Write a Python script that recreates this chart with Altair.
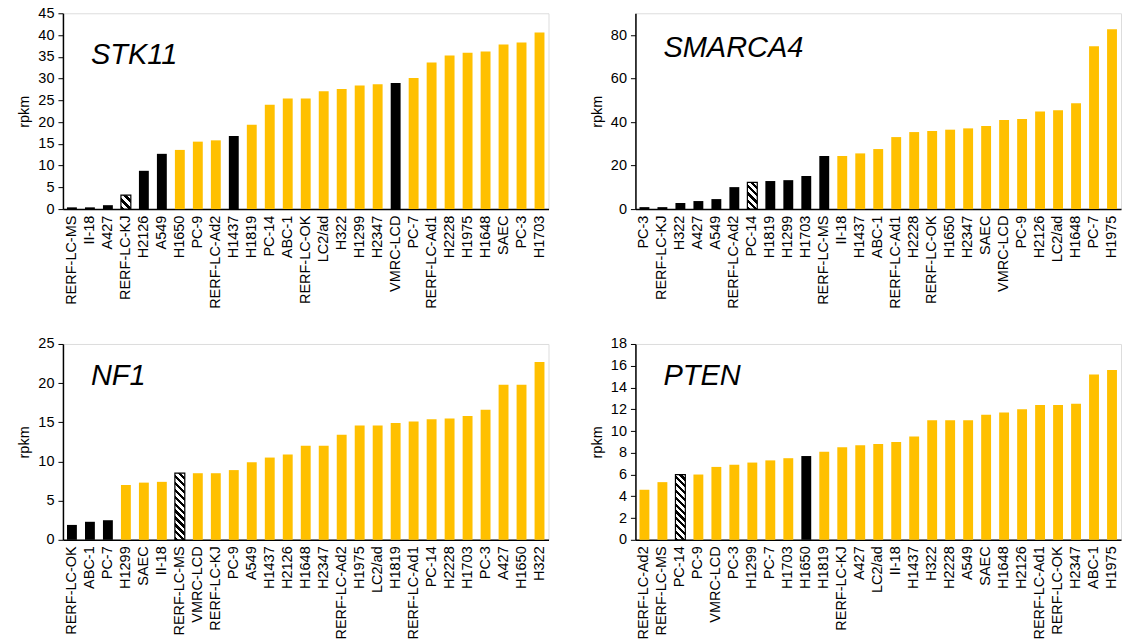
import altair as alt
import pandas as pd

# ---------------- data ----------------
stk11_cells = ["RERF-LC-MS", "II-18", "A427", "RERF-LC-KJ", "H2126", "A549", "H1650", "PC-9",
               "RERF-LC-Ad2", "H1437", "H1819", "PC-14", "ABC-1", "RERF-LC-OK", "LC2/ad", "H322",
               "H1299", "H2347", "VMRC-LCD", "PC-7", "RERF-LC-Ad1", "H2228", "H1975", "H1648",
               "SAEC", "PC-3", "H1703"]
stk11_vals = [0.4, 0.4, 0.9, 3.2, 8.8, 12.7, 13.6, 15.5, 15.8, 16.8, 19.4, 24.0, 25.4, 25.4,
              27.1, 27.6, 28.4, 28.7, 29.0, 30.1, 33.7, 35.3, 35.9, 36.2, 37.8, 38.3, 40.6]
stk11_kind = ["black", "black", "black", "hatch", "black", "black", "yellow", "yellow",
              "yellow", "black", "yellow", "yellow", "yellow", "yellow", "yellow", "yellow",
              "yellow", "yellow", "black", "yellow", "yellow", "yellow", "yellow", "yellow",
              "yellow", "yellow", "yellow"]

smarca4_cells = ["PC-3", "RERF-LC-KJ", "H322", "A427", "A549", "RERF-LC-Ad2", "PC-14", "H1819",
                 "H1299", "H1703", "RERF-LC-MS", "II-18", "H1437", "ABC-1", "RERF-LC-Ad1",
                 "H2228", "RERF-LC-OK", "H1650", "H2347", "SAEC", "VMRC-LCD", "PC-9", "H2126",
                 "LC2/ad", "H1648", "PC-7", "H1975"]
smarca4_vals = [0.9, 0.9, 2.8, 3.7, 4.6, 10.1, 12.3, 12.9, 13.3, 15.2, 24.4, 24.4, 25.6, 27.6,
                33.1, 35.4, 35.9, 36.5, 37.1, 38.2, 40.9, 41.4, 44.8, 45.4, 48.6, 74.9, 82.6]
smarca4_kind = ["black", "black", "black", "black", "black", "black", "hatch", "black",
                "black", "black", "black", "yellow", "yellow", "yellow", "yellow", "yellow",
                "yellow", "yellow", "yellow", "yellow", "yellow", "yellow", "yellow", "yellow",
                "yellow", "yellow", "yellow"]

nf1_cells = ["RERF-LC-OK", "ABC-1", "PC-7", "H1299", "SAEC", "II-18", "RERF-LC-MS", "VMRC-LCD",
             "RERF-LC-KJ", "PC-9", "A549", "H1437", "H2126", "H1648", "H2347", "RERF-LC-Ad2",
             "H1975", "LC2/ad", "H1819", "RERF-LC-Ad1", "PC-14", "H2228", "H1703", "PC-3",
             "A427", "H1650", "H322"]
nf1_vals = [1.9, 2.3, 2.5, 7.0, 7.3, 7.4, 8.5, 8.5, 8.5, 8.9, 9.9, 10.5, 10.9, 12.0, 12.0,
            13.4, 14.6, 14.6, 14.9, 15.1, 15.4, 15.5, 15.8, 16.6, 19.8, 19.8, 22.7]
nf1_kind = ["black", "black", "black", "yellow", "yellow", "yellow", "hatch", "yellow",
            "yellow", "yellow", "yellow", "yellow", "yellow", "yellow", "yellow", "yellow",
            "yellow", "yellow", "yellow", "yellow", "yellow", "yellow", "yellow", "yellow",
            "yellow", "yellow", "yellow"]

pten_cells = ["RERF-LC-Ad2", "RERF-LC-MS", "PC-14", "PC-9", "VMRC-LCD", "PC-3", "H1299", "PC-7",
              "H1703", "H1650", "H1819", "RERF-LC-KJ", "A427", "LC2/ad", "II-18", "H1437",
              "H322", "H2228", "A549", "SAEC", "H1648", "H2126", "RERF-LC-Ad1", "RERF-LC-OK",
              "H2347", "ABC-1", "H1975"]
pten_vals = [4.6, 5.3, 6.0, 6.0, 6.7, 6.9, 7.1, 7.3, 7.5, 7.7, 8.1, 8.5, 8.7, 8.8, 9.0, 9.5,
             11.0, 11.0, 11.0, 11.5, 11.7, 12.0, 12.4, 12.4, 12.5, 15.2, 15.6]
pten_kind = ["yellow", "yellow", "hatch", "yellow", "yellow", "yellow", "yellow", "yellow",
             "yellow", "black", "yellow", "yellow", "yellow", "yellow", "yellow", "yellow",
             "yellow", "yellow", "yellow", "yellow", "yellow", "yellow", "yellow", "yellow",
             "yellow", "yellow", "yellow"]

genes = ["STK11", "SMARCA4", "NF1", "PTEN"]
y_max = [45, 90, 25, 18]
y_step = [5, 20, 5, 2]

# ---------------- style ----------------
FONT = "Liberation Sans"
FS = 14.5
PW, PH = 486, 196
PAD_INNER = 0.45
YELLOW = "#FFC000"


def hatch_gradient(w, h, period=7.0, frac=0.45):
    # diagonal "\\" stripes drawn as a hard-stop linear gradient in bbox units
    s = (w + h) * w / (w * w + h * h)
    x2 = s
    y2 = 1 - (w + h) * h / (w * w + h * h)
    n = max(1, int(round((w + h) / period)))
    stops = []
    for k in range(n):
        a = k / n
        b = (k + frac) / n
        c = (k + 1) / n
        stops += [alt.GradientStop(offset=a, color="black"),
                  alt.GradientStop(offset=b, color="black"),
                  alt.GradientStop(offset=b, color="white"),
                  alt.GradientStop(offset=c, color="white")]
    return alt.LinearGradient(gradient="linear", stops=stops, x1=0, y1=1, x2=x2, y2=y2)


def panel(gene, cells, vals, kinds, ymax, ystep, label_y):
    df = pd.DataFrame({"cell": cells, "rpkm": vals, "kind": kinds})
    n = len(cells)
    step = PW / n
    bw = step * (1 - PAD_INNER)
    x = alt.X("cell:N", sort=None, title=None,
              scale=alt.Scale(domain=cells, paddingInner=PAD_INNER, paddingOuter=PAD_INNER / 2),
              axis=alt.Axis(labelAngle=270, labelFont=FONT, labelFontSize=FS,
                            labelColor="black", domainColor="black", domainWidth=1.5,
                            ticks=False, labelPadding=6, labelLimit=200))
    y = alt.Y("rpkm:Q", title="rpkm",
              scale=alt.Scale(domain=[0, ymax], nice=False, zero=True),
              axis=alt.Axis(values=list(range(0, ymax + 1, ystep)), grid=False,
                            labelFont=FONT, labelFontSize=FS, labelColor="black",
                            domainColor="black", domainWidth=1.5, tickColor="black",
                            tickSize=5, labelPadding=4, titleFont=FONT,
                            titleFontSize=FS, titleFontWeight="normal",
                            titleColor="black", titlePadding=6))
    bars = alt.Chart(df).mark_bar(size=bw).encode(
        x=x, y=y,
        color=alt.Color("kind:N", legend=None,
                        scale=alt.Scale(domain=["black", "yellow", "hatch"],
                                        range=["#000000", YELLOW, "#ffffff"]))
    ).transform_filter(alt.datum.kind != "hatch")
    layers = [bars]
    for c, v, k in zip(cells, vals, kinds):
        if k == "hatch":
            h = v / ymax * PH
            hb = alt.Chart(df).mark_bar(size=bw, fill=hatch_gradient(bw, h),
                                        stroke="black", strokeWidth=1.2).encode(
                x=x, y=y).transform_filter(alt.datum.cell == c)
            layers.append(hb)
    lbl = alt.Chart(pd.DataFrame({"g": [gene]})).mark_text(
        font=FONT, fontSize=29, fontStyle="italic", align="left", baseline="alphabetic",
        color="black").encode(text="g:N", x=alt.value(28), y=alt.value(label_y))
    layers.append(lbl)
    return alt.layer(*layers).properties(width=PW, height=PH)


p1 = panel("STK11", stk11_cells, stk11_vals, stk11_kind, 45, 5, 51)
p2 = panel("SMARCA4", smarca4_cells, smarca4_vals, smarca4_kind, 90, 20, 44)
p3 = panel("NF1", nf1_cells, nf1_vals, nf1_kind, 25, 5, 41)
p4 = panel("PTEN", pten_cells, pten_vals, pten_kind, 18, 2, 41)

chart = alt.concat(p1, p2, p3, p4, columns=2,
                   spacing=alt.RowColnumber(row=135, column=87),
                   bounds="flush").resolve_scale(
    x="independent", y="independent", color="shared"
).configure_view(stroke="#6e6e6e", strokeWidth=1.5).configure(
    background="white", padding={"left": 16, "top": 4, "right": 0, "bottom": 0})

chart.save("out.html", embed_options={"renderer": "svg", "actions": False})
